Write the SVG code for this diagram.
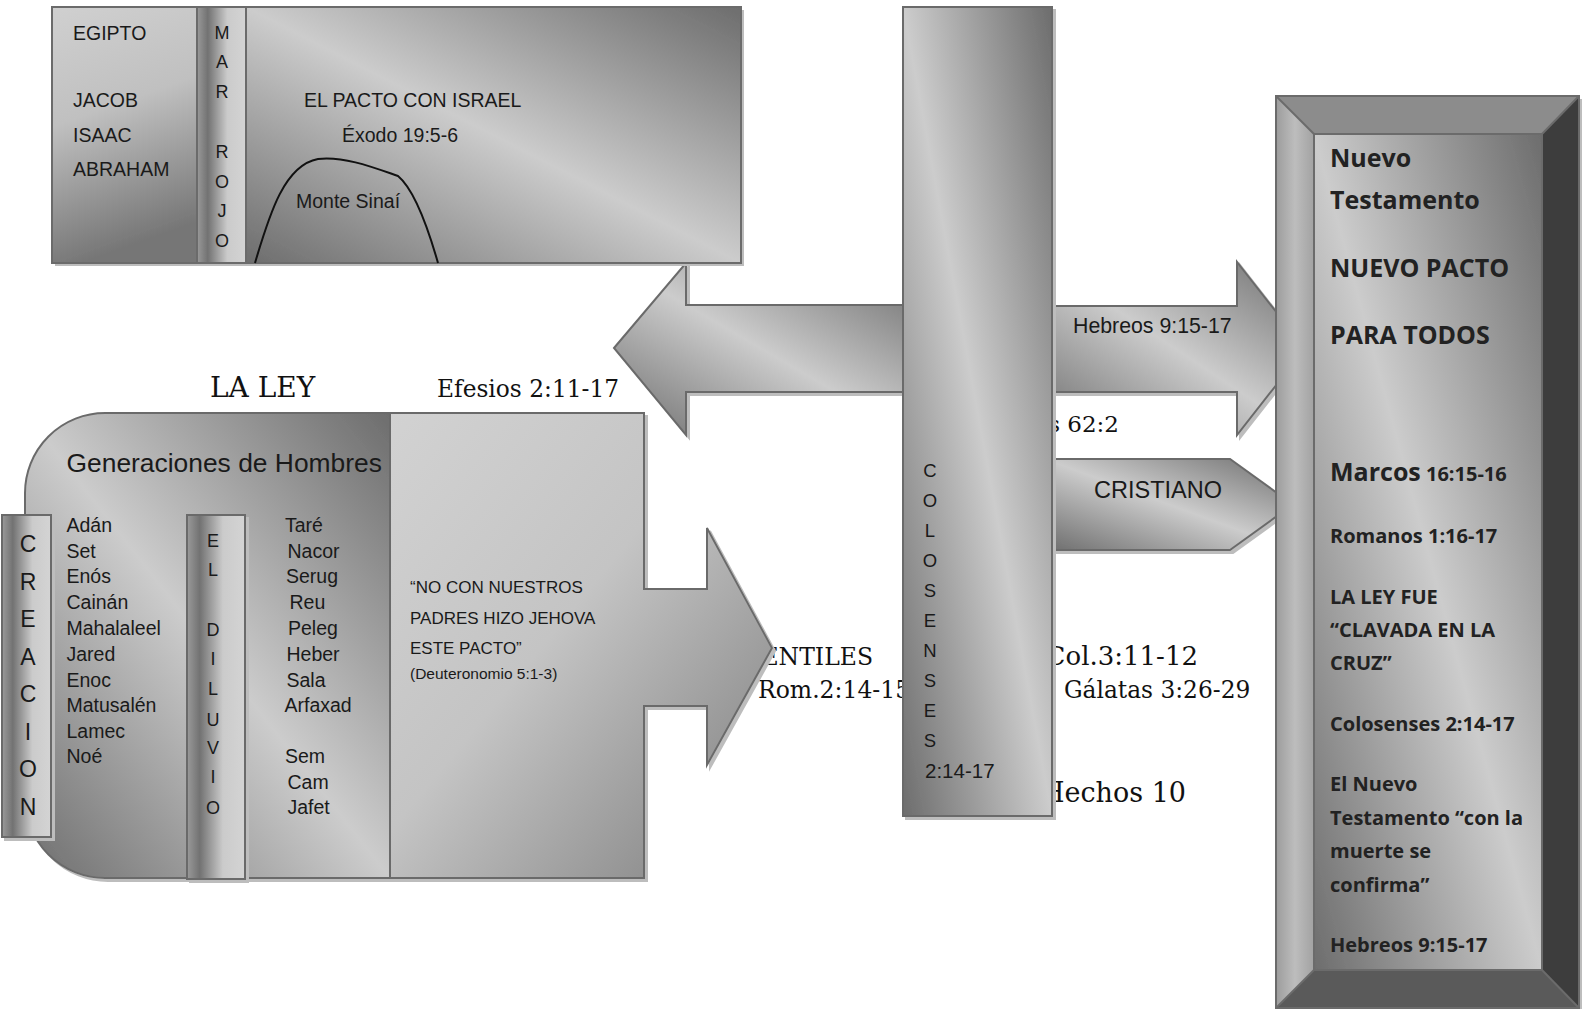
<svg xmlns="http://www.w3.org/2000/svg" width="1585" height="1009" viewBox="0 0 1585 1009">
<defs>
<style>
.s{font-family:"Liberation Sans",Arial,sans-serif;fill:#1a1a1a}
.r{font-family:"DejaVu Serif","Liberation Serif",serif;fill:#111}
.b{font-family:"Open Sans","Noto Sans",sans-serif;font-weight:700;fill:#222}
.ln{stroke:#6b6b6b;stroke-width:2}
</style>
<linearGradient id="diag" x1="0" y1="1" x2="1" y2="0">
<stop offset="0" stop-color="#6d6d6d"/><stop offset="0.5" stop-color="#cccccc"/><stop offset="1" stop-color="#6d6d6d"/>
</linearGradient>
<linearGradient id="cyl" x1="0" y1="0" x2="1" y2="0">
<stop offset="0" stop-color="#9a9a9a"/><stop offset="0.22" stop-color="#727272"/><stop offset="0.62" stop-color="#cbcbcb"/><stop offset="1" stop-color="#d4d4d4"/>
</linearGradient>
<linearGradient id="egy" x1="0" y1="0" x2="0.2" y2="1">
<stop offset="0" stop-color="#d0d0d0"/><stop offset="0.45" stop-color="#c0c0c0"/><stop offset="1" stop-color="#767676"/>
</linearGradient>
<linearGradient id="pan" x1="0" y1="0" x2="1" y2="1">
<stop offset="0" stop-color="#d2d2d2"/><stop offset="0.45" stop-color="#c4c4c4"/><stop offset="1" stop-color="#7c7c7c"/>
</linearGradient>
<linearGradient id="lbev" x1="0" y1="0" x2="1" y2="0">
<stop offset="0" stop-color="#9c9c9c"/><stop offset="0.5" stop-color="#bdbdbd"/><stop offset="1" stop-color="#a2a2a2"/>
</linearGradient>
<filter id="sh" x="-5%" y="-5%" width="115%" height="115%">
<feOffset in="SourceAlpha" dx="3" dy="3" result="o"/>
<feFlood flood-color="#bdbdbd"/>
<feComposite in2="o" operator="in"/>
<feMerge><feMergeNode/><feMergeNode in="SourceGraphic"/></feMerge>
</filter>
</defs>
<rect width="1585" height="1009" fill="#ffffff"/>

<!-- partially hidden serif texts -->
<g id="refs">
<text class="r" x="873" y="665" font-size="23.5" text-anchor="end">GENTILES</text>
<text class="r" x="758" y="698" font-size="23.5">Rom.2:14-15</text>
<text class="r" x="1198" y="665" font-size="26" text-anchor="end">Col.3:11-12</text>
<text class="r" x="1064" y="698" font-size="23.3">Gálatas 3:26-29</text>
<text class="r" x="1186" y="802" font-size="27" text-anchor="end">Hechos 10</text>
<text class="r" x="1119" y="432" font-size="23" text-anchor="end">Isaías 62:2</text>
<text class="r" x="210" y="397" font-size="28">LA LEY</text>
<text class="r" x="437" y="397" font-size="23.3">Efesios 2:11-17</text>
</g>

<g id="connectors">
<g filter="url(#sh)">
<polygon points="614,348 686,263 686,305 910,305 910,392 686,392 686,435" fill="url(#diag)" class="ln"/>
<polygon points="1045,306 1237,306 1237,262 1305,348.5 1237,435 1237,392 1045,392" fill="url(#diag)" class="ln"/>
<polygon points="1045,459 1230,459 1293,504.5 1230,550 1045,550" fill="url(#diag)" class="ln"/>
</g>
<text class="s" x="1073" y="333" font-size="21.3">Hebreos 9:15-17</text>
<text class="s" x="1094" y="498" font-size="23.5">CRISTIANO</text>
</g>

<g id="la-ley">
<g filter="url(#sh)">
<path d="M390,413 L105,413 A80,80 0 0 0 25,493 L25,798 A80,80 0 0 0 105,878 L390,878 Z" fill="url(#diag)" class="ln"/>
<path d="M390,413 L644,413 L644,589 L707,589 L707,528 L772,648 L707,765 L707,706 L644,706 L644,878 L390,878 Z" fill="url(#pan)" class="ln"/>
</g>
<text class="s" x="66.5" y="472" font-size="26.4">Generaciones de Hombres</text>
<g class="s" font-size="19.5">
<text x="66.5" y="532">Adán</text>
<text x="66.5" y="558">Set</text>
<text x="66.5" y="583">Enós</text>
<text x="66.5" y="609">Cainán</text>
<text x="66.5" y="635">Mahalaleel</text>
<text x="66.5" y="661">Jared</text>
<text x="66.5" y="687">Enoc</text>
<text x="66.5" y="712">Matusalén</text>
<text x="66.5" y="738">Lamec</text>
<text x="66.5" y="763">Noé</text>
<text x="285" y="532">Taré</text>
<text x="287.5" y="558">Nacor</text>
<text x="286" y="583">Serug</text>
<text x="289.5" y="609">Reu</text>
<text x="288" y="635">Peleg</text>
<text x="286.5" y="661">Heber</text>
<text x="286.5" y="687">Sala</text>
<text x="284.5" y="712">Arfaxad</text>
<text x="285" y="763">Sem</text>
<text x="287.5" y="789">Cam</text>
<text x="287.5" y="814">Jafet</text>
</g>
<g class="s" font-size="17">
<text x="410" y="593">“NO CON NUESTROS</text>
<text x="410" y="624">PADRES HIZO JEHOVA</text>
<text x="410" y="654">ESTE PACTO”</text>
<text x="410" y="679" font-size="15.5">(Deuteronomio 5:1-3)</text>
</g>
</g>

<g id="creacion">
<rect x="2" y="515" width="49" height="322" fill="url(#cyl)" class="ln" filter="url(#sh)"/>
<g class="s" font-size="23" text-anchor="middle">
<text x="28" y="552">C</text>
<text x="28" y="589.5">R</text>
<text x="28" y="627">E</text>
<text x="28" y="664.5">A</text>
<text x="28" y="702">C</text>
<text x="28" y="739.5">I</text>
<text x="28" y="777">O</text>
<text x="28" y="815">N</text>
</g>
</g>

<g id="diluvio">
<rect x="187" y="515" width="58" height="364" fill="url(#cyl)" class="ln" filter="url(#sh)"/>
<g class="s" font-size="18" text-anchor="middle">
<text x="213" y="547">E</text>
<text x="213" y="576">L</text>
<text x="213" y="636">D</text>
<text x="213" y="665">I</text>
<text x="213" y="695">L</text>
<text x="213" y="726">U</text>
<text x="213" y="754">V</text>
<text x="213" y="783">I</text>
<text x="213" y="814">O</text>
</g>
</g>

<g id="colosenses">
<rect x="903" y="7" width="149" height="809" fill="url(#diag)" class="ln" filter="url(#sh)"/>
<g class="s" font-size="18.5" text-anchor="middle">
<text x="930" y="477">C</text>
<text x="930" y="507">O</text>
<text x="930" y="537">L</text>
<text x="930" y="567">O</text>
<text x="930" y="597">S</text>
<text x="930" y="627">E</text>
<text x="930" y="657">N</text>
<text x="930" y="687">S</text>
<text x="930" y="717">E</text>
<text x="930" y="747">S</text>
</g>
<text class="s" x="925" y="778" font-size="20.5">2:14-17</text>
</g>

<g id="pacto-israel">
<g filter="url(#sh)">
<rect x="52" y="7" width="145" height="256" fill="url(#egy)"/>
<rect x="197" y="7" width="49" height="256" fill="url(#cyl)"/>
<rect x="246" y="7" width="495" height="256" fill="url(#diag)"/>
</g>
<rect x="52" y="7" width="689" height="256" fill="none" class="ln"/>
<line x1="197" y1="7" x2="197" y2="263" class="ln"/>
<line x1="246" y1="7" x2="246" y2="263" class="ln"/>
<path d="M255,263 C270,212 285,165 318,159 C345,156 375,168 398,176 C415,190 428,228 438,263" fill="none" stroke="#111" stroke-width="2"/>
<g class="s" font-size="19.5">
<text x="73" y="40">EGIPTO</text>
<text x="73" y="107">JACOB</text>
<text x="73" y="141.5">ISAAC</text>
<text x="73" y="175.5">ABRAHAM</text>
<text x="304" y="107">EL PACTO CON ISRAEL</text>
<text x="342" y="141.5">Éxodo 19:5-6</text>
<text x="296" y="208">Monte Sinaí</text>
</g>
<g class="s" font-size="18" text-anchor="middle">
<text x="222" y="39">M</text>
<text x="222" y="68">A</text>
<text x="222" y="97.5">R</text>
<text x="222" y="158">R</text>
<text x="222" y="188">O</text>
<text x="222" y="217">J</text>
<text x="222" y="247">O</text>
</g>
</g>

<g id="nuevo-testamento">
<g filter="url(#sh)">
<rect x="1276" y="96" width="303" height="912" fill="#8c8c8c"/>
<polygon points="1276,96 1314,134 1314,970 1276,1008" fill="url(#lbev)"/>
<polygon points="1579,96 1579,1008 1542,970 1542,134" fill="#3c3c3c"/>
<polygon points="1276,1008 1314,970 1542,970 1579,1008" fill="#5a5a5a"/>
<rect x="1314" y="134" width="228" height="836" fill="url(#diag)"/>
</g>
<rect x="1276" y="96" width="303" height="912" fill="none" class="ln"/>
<rect x="1314" y="134" width="228" height="836" fill="none" class="ln"/>
<g class="ln">
<line x1="1276" y1="96" x2="1314" y2="134"/>
<line x1="1579" y1="96" x2="1542" y2="134"/>
<line x1="1276" y1="1008" x2="1314" y2="970"/>
<line x1="1579" y1="1008" x2="1542" y2="970"/>
</g>
<g class="b" font-size="25">
<text x="1330" y="167">Nuevo</text>
<text x="1330" y="209">Testamento</text>
<text x="1330" y="277">NUEVO PACTO</text>
<text x="1330" y="344">PARA TODOS</text>
<text x="1330" y="481">Marcos<tspan font-size="20"> 16:15-16</tspan></text>
</g>
<g class="b" font-size="20">
<text x="1330" y="543">Romanos 1:16-17</text>
<text x="1330" y="604">LA LEY FUE</text>
<text x="1330" y="637">“CLAVADA EN LA</text>
<text x="1330" y="670">CRUZ”</text>
<text x="1330" y="731">Colosenses 2:14-17</text>
<text x="1330" y="791">El Nuevo</text>
<text x="1330" y="825">Testamento “con la</text>
<text x="1330" y="858">muerte se</text>
<text x="1330" y="892">confirma”</text>
<text x="1330" y="952">Hebreos 9:15-17</text>
</g>
</g>
</svg>
